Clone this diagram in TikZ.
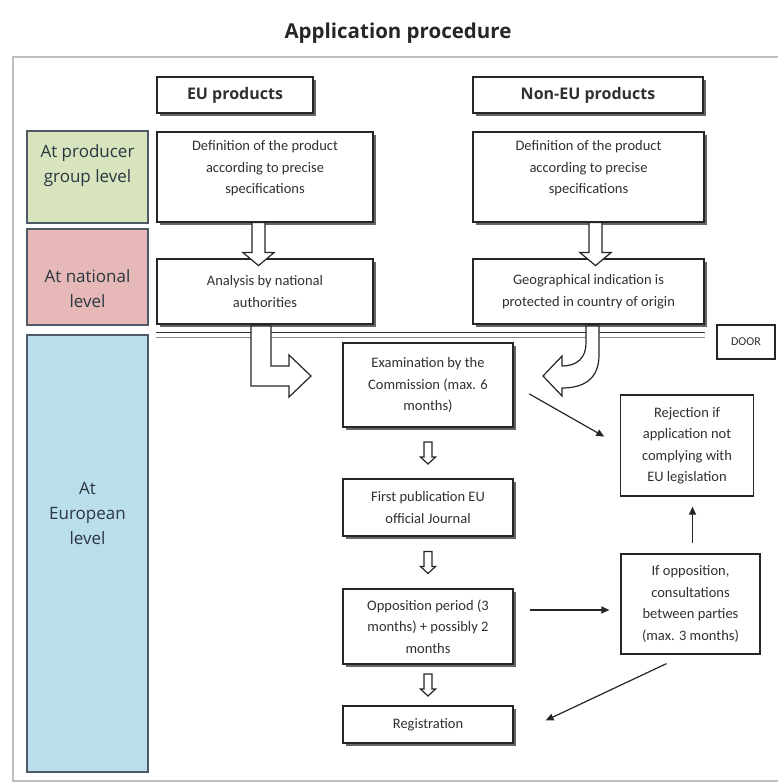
\documentclass[tikz,border=0pt]{standalone}
\usepackage{fontspec}
\setmainfont{Carlito}
\newfontfamily\headfont{Open Sans}
\usetikzlibrary{calc,shadows,arrows.meta}

\definecolor{grpgreen}{HTML}{D7E4BD}
\definecolor{natred}{HTML}{E6B9B8}
\definecolor{eublue}{HTML}{BADEEC}
\definecolor{lvlline}{HTML}{4E5B66}
\definecolor{lvltext}{HTML}{2B3640}
\definecolor{boxtext}{HTML}{303030}

\tikzset{
  box/.style={draw=black!85, line width=1.2pt, fill=white, align=center, inner sep=2pt,
    text=boxtext, font=\fontsize{14.5}{21.5}\selectfont},
  shbox/.style={box, drop shadow={shadow xshift=3pt, shadow yshift=-3pt, fill=black!60, opacity=1}},
  boxtxt/.style={align=center, text=boxtext, font=\fontsize{14.5}{21.5}\selectfont},
  hdbox/.style={shbox, font=\headfont\bfseries\fontsize{16}{20}\selectfont},
  lvlbox/.style={draw=lvlline, line width=1.5pt, inner sep=0pt},
  lvltxt/.style={align=center, text=lvltext, font=\headfont\fontsize{17}{25}\selectfont},
  arr/.style={draw=black!85, line width=1.2pt, -{Triangle[length=8pt,width=7pt]}},
  hollow/.style={draw=black!85, line width=1.2pt, fill=white, line join=miter},
  pics/smalldown/.style={code={
    \draw[hollow] (-4,-11) -- (4,-11) -- (4,4) -- (7.5,4) -- (0,11) -- (-7.5,4) -- (-4,4) -- cycle;
  }},
  pics/bigdown/.style={code={
    \draw[hollow] (-6.5,0) -- (6.5,0) -- (6.5,30) -- (15.5,30) -- (0,43) -- (-15.5,30) -- (-6.5,30) -- cycle;
  }},
}

\begin{document}
\begin{tikzpicture}[x=1pt, y=-1pt]
\useasboundingbox (0,0) rectangle (777,783);

% title and frame
\node[font=\headfont\bfseries\fontsize{20.5}{24}\selectfont, text=black!85] (title) at (398,33) {Application procedure};
\draw[black!25, line width=1.5pt] (13,57) rectangle (800,781);

% column headers
\node[hdbox, minimum width=156, minimum height=36] (euhead) at (235,95) {EU products};
\node[hdbox, minimum width=230, minimum height=36] (nonhead) at (588,95) {Non-EU products};

% levels
\node[lvlbox, fill=grpgreen, minimum width=121, minimum height=92] (grp) at (87.5,177) {};
\node[lvltxt] (grptxt) at (87.5,165.5) {At producer\\group level};
\node[lvlbox, fill=natred, minimum width=121, minimum height=96] (nat) at (87.5,277) {};
\node[lvltxt] (nattxt) at (87.5,289) {At national\\level};
\node[lvlbox, fill=eublue, minimum width=121, minimum height=437] (eur) at (87.5,553.5) {};
\node[lvltxt] (eurtxt) at (87.5,513) {At\\European\\level};

% producer and national boxes
\node[shbox, minimum width=216, minimum height=90] (defEU) at (265,177) {};
\node[boxtxt] (defEUtxt) at (265,168.5) {Definition of the product\\according to precise\\specifications};
\node[shbox, minimum width=231, minimum height=90] (defNon) at (588.5,177) {};
\node[boxtxt] (defNontxt) at (588.5,168.5) {Definition of the product\\according to precise\\specifications};
\node[shbox, minimum width=216, minimum height=65] (anEU) at (265,291.5) {Analysis by national\\authorities};
\node[shbox, minimum width=231, minimum height=65] (geo) at (588.5,291.5) {Geographical indication is\\protected in country of origin};

\pic at ([xshift=-6.5]defEU.south) {bigdown};
\pic at ([xshift=7]defNon.south) {bigdown};

% border line
\draw[black!80, line width=1.4pt] ($(anEU.south west)+(0,8)$) -- ($(geo.south east)+(0,8)$);
\draw[black!45, line width=1pt] ($(anEU.south west)+(0,13)$) -- ($(geo.south east)+(0,13)$);
\node[box, font=\fontsize{12}{14}\selectfont, minimum width=58, minimum height=34] (door) at (746,342) {DOOR};

% European procedure
\node[shbox, minimum width=170, minimum height=84] (exam) at (428,385) {Examination by the\\Commission (max. 6\\months)};
\node[shbox, minimum width=170, minimum height=57] (first) at (428,507.5) {First publication EU\\official Journal};
\node[shbox, minimum width=170, minimum height=75] (oppo) at (428,626.5) {Opposition period (3\\months) + possibly 2\\months};
\node[shbox, minimum width=170, minimum height=37] (reg) at (428,724.5) {Registration};
\node[box, minimum width=133, minimum height=101] (rej) at (687,445.5) {Rejection if\\application not\\complying with\\EU legislation};
\node[box, minimum width=139, minimum height=100] (ifopp) at (690.5,604) {If opposition,\\consultations\\between parties\\(max. 3 months)};

% hollow arrows into the Commission
\draw[hollow] (251,326) -- (271,326) -- (271,366) -- (289,366) -- (289,355) -- (311,376)
  -- (289,397) -- (289,386) -- (251,386) -- cycle;
\draw[hollow] (586,326) -- (599,326) -- (599,355) .. controls (599,378) and (585,388) .. (562,388)
  -- (562,396) -- (543,376) -- (562,356) -- (562,366) .. controls (577,366) and (586,358) .. (586,343) -- cycle;

\pic at ($(exam.south)!0.5!(first.north)$) {smalldown};
\pic at ($(first.south)!0.5!(oppo.north)$) {smalldown};
\pic at ($(oppo.south)!0.5!(reg.north)$) {smalldown};

% connectors
\draw[arr, shorten <=18pt, shorten >=18pt] (exam.east) -- (rej.west);
\draw[arr] ($(oppo.east |- ifopp.west)+(16,6)$) -- ($(ifopp.west)+(-11,6)$);
\draw[arr, shorten <=10pt, shorten >=10pt] ([xshift=2]ifopp.north) -- ([xshift=2]ifopp.north |- rej.south);
\draw[arr] ($(ifopp.south)+(-24,9)$) -- ($(reg.east)+(32,-4)$);
\end{tikzpicture}
\end{document}
